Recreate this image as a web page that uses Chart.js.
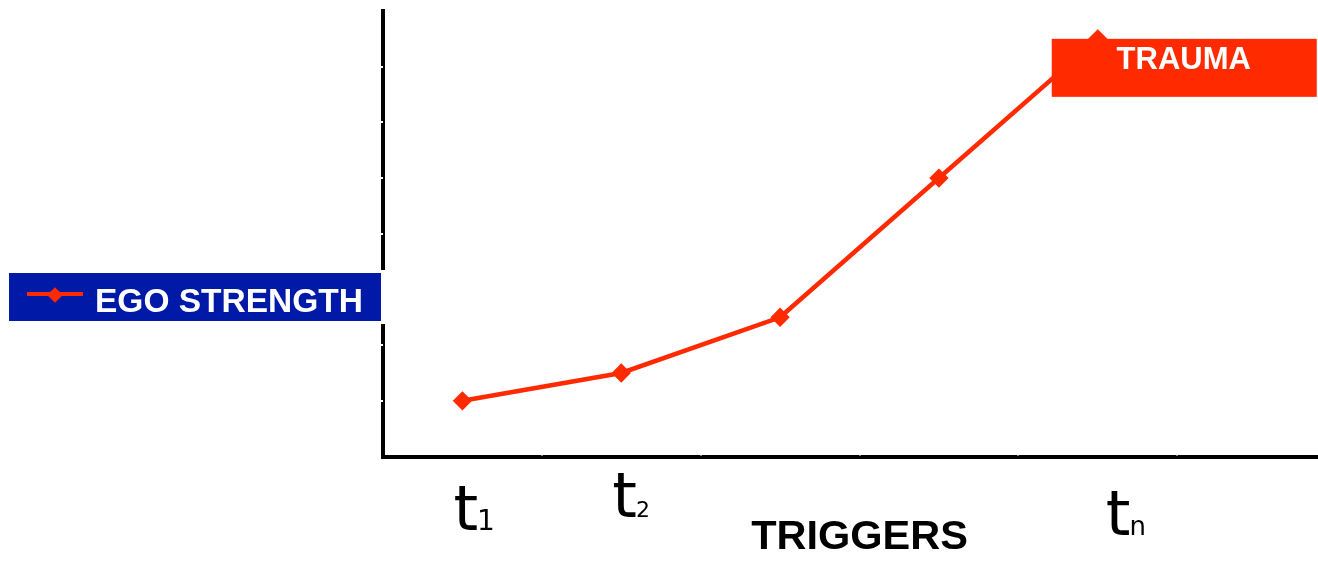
<!DOCTYPE html>
<html>
<head>
<meta charset="utf-8">
<title>Ego strength and triggers</title>
<script src="https://cdn.jsdelivr.net/npm/chart.js@4"></script>
<style>
  html, body { margin: 0; padding: 0; background: #fff; overflow: hidden; }
  #wrap { width: 1347px; height: 561px; }
</style>
</head>
<body>
<div id="wrap"><canvas id="chart" width="1347" height="561"></canvas></div>
<script>
// six trigger slots on the x axis, the last one stays empty
const triggers = ['t1', 't2', 't3', 't4', 'tn', ''];
const egoStrength = [1, 1.5, 2.5, 5, 7.5, null];
const tickBase = ['t', 't', '', '', 't', ''];
const tickSub = ['1', '2', '', '', 'n', ''];
const seriesName = 'EGO STRENGTH';
const calloutText = 'TRAUMA';
const axisTitle = 'TRIGGERS';

const RED = '#ff2a00';
const BLUE = '#0019a6';
const ARIAL = '"Liberation Sans", Arial, sans-serif';

// draws the legend box, the TRAUMA callout, the t labels and the axis notches
const decorations = {
  id: 'decorations',
  afterDatasetsDraw(chart, args, opts) {
    const ctx = chart.ctx;
    const xs = chart.scales.x, ys = chart.scales.y;
    ctx.save();

    // small white notches on the axis lines
    ctx.fillStyle = '#fff';
    ys.ticks.forEach((t, i) => {
      if (i === 0 || i === ys.ticks.length - 1) return;
      ctx.fillRect(xs.left - 2, Math.round(ys.getPixelForTick(i)) - 1, 2, 2);
    });
    for (let i = 1; i < triggers.length; i++) {
      const px = (xs.getPixelForValue(i - 1) + xs.getPixelForValue(i)) / 2;
      ctx.fillRect(Math.round(px) - 1, ys.bottom - 2, 2, 1);
    }

    // legend
    const lg = opts.legend;
    ctx.fillStyle = '#fff';
    ctx.fillRect(lg.x + lg.w, lg.y - 3, 7, lg.h + 6);
    ctx.fillStyle = BLUE;
    ctx.fillRect(lg.x, lg.y, lg.w, lg.h);
    const ly = lg.y + 21;
    ctx.strokeStyle = RED;
    ctx.lineWidth = 4;
    ctx.beginPath();
    ctx.moveTo(lg.x + 18, ly);
    ctx.lineTo(lg.x + 74, ly);
    ctx.stroke();
    ctx.fillStyle = RED;
    Chart.helpers.drawPoint(ctx, { pointStyle: 'rectRot', radius: 5, rotation: 0, borderWidth: 1 }, lg.x + 46, ly + 1);
    ctx.fillStyle = '#fff';
    ctx.font = 'bold 33.5px ' + ARIAL;
    ctx.textBaseline = 'alphabetic';
    ctx.textAlign = 'left';
    ctx.fillText(chart.data.datasets[0].label, lg.x + 86, lg.y + 39);

    // callout anchored on the last point
    const meta = chart.getDatasetMeta(0);
    const last = meta.data[4];
    const bx = last.x - 46, by = last.y;
    ctx.fillStyle = RED;
    ctx.fillRect(bx, by, 265, 58);
    ctx.fillStyle = '#fff';
    ctx.font = 'bold 31px ' + ARIAL;
    ctx.textAlign = 'center';
    ctx.fillText(calloutText, bx + 132, by + 30);

    // t labels with subscripts
    ctx.fillStyle = '#000';
    ctx.textAlign = 'left';
    tickBase.forEach((b, i) => {
      if (!b) return;
      const pos = opts.labelPos[i];
      const px = xs.getPixelForValue(i) + pos[0];
      ctx.font = '63px "DejaVu Sans", sans-serif';
      ctx.fillText(b, px, pos[1]);
      const w = ctx.measureText(b).width;
      ctx.font = pos[2] + 'px "DejaVu Sans", sans-serif';
      ctx.fillText(tickSub[i], px + w - 1, pos[1]);
    });

    ctx.restore();
  }
};

new Chart(document.getElementById('chart'), {
  type: 'line',
  data: {
    labels: triggers,
    datasets: [{
      label: seriesName,
      data: egoStrength,
      borderColor: RED,
      backgroundColor: RED,
      borderWidth: 4.5,
      pointStyle: 'rectRot',
      pointRadius: 6.5,
      pointHoverRadius: 6.5,
      tension: 0
    }]
  },
  options: {
    responsive: false,
    animation: false,
    devicePixelRatio: 1,
    layout: { padding: { left: 383, top: 10, right: 0, bottom: 3 } },
    plugins: {
      legend: { display: false },
      tooltip: { enabled: false },
      decorations: {
        legend: { x: 9, y: 273, w: 372, h: 48 },
        // [x offset from category centre, baseline, subscript size]
        labelPos: [[-9, 530, 28], [-9, 517, 22], null, null, [8, 535, 26], null]
      }
    },
    scales: {
      x: {
        type: 'category',
        offset: true,
        grid: { display: false, drawTicks: false },
        ticks: { display: false },
        border: { color: '#000', width: 4 },
        title: {
          display: true,
          text: axisTitle,
          color: '#000',
          font: { family: ARIAL, size: 41.5, weight: 'bold', lineHeight: 1 },
          padding: { top: 60, bottom: 0 }
        }
      },
      y: {
        min: 0,
        max: 8,
        ticks: { display: false, stepSize: 1 },
        grid: { display: false, drawTicks: false },
        border: { color: '#000', width: 4 }
      }
    }
  },
  plugins: [decorations]
});
</script>
</body>
</html>
